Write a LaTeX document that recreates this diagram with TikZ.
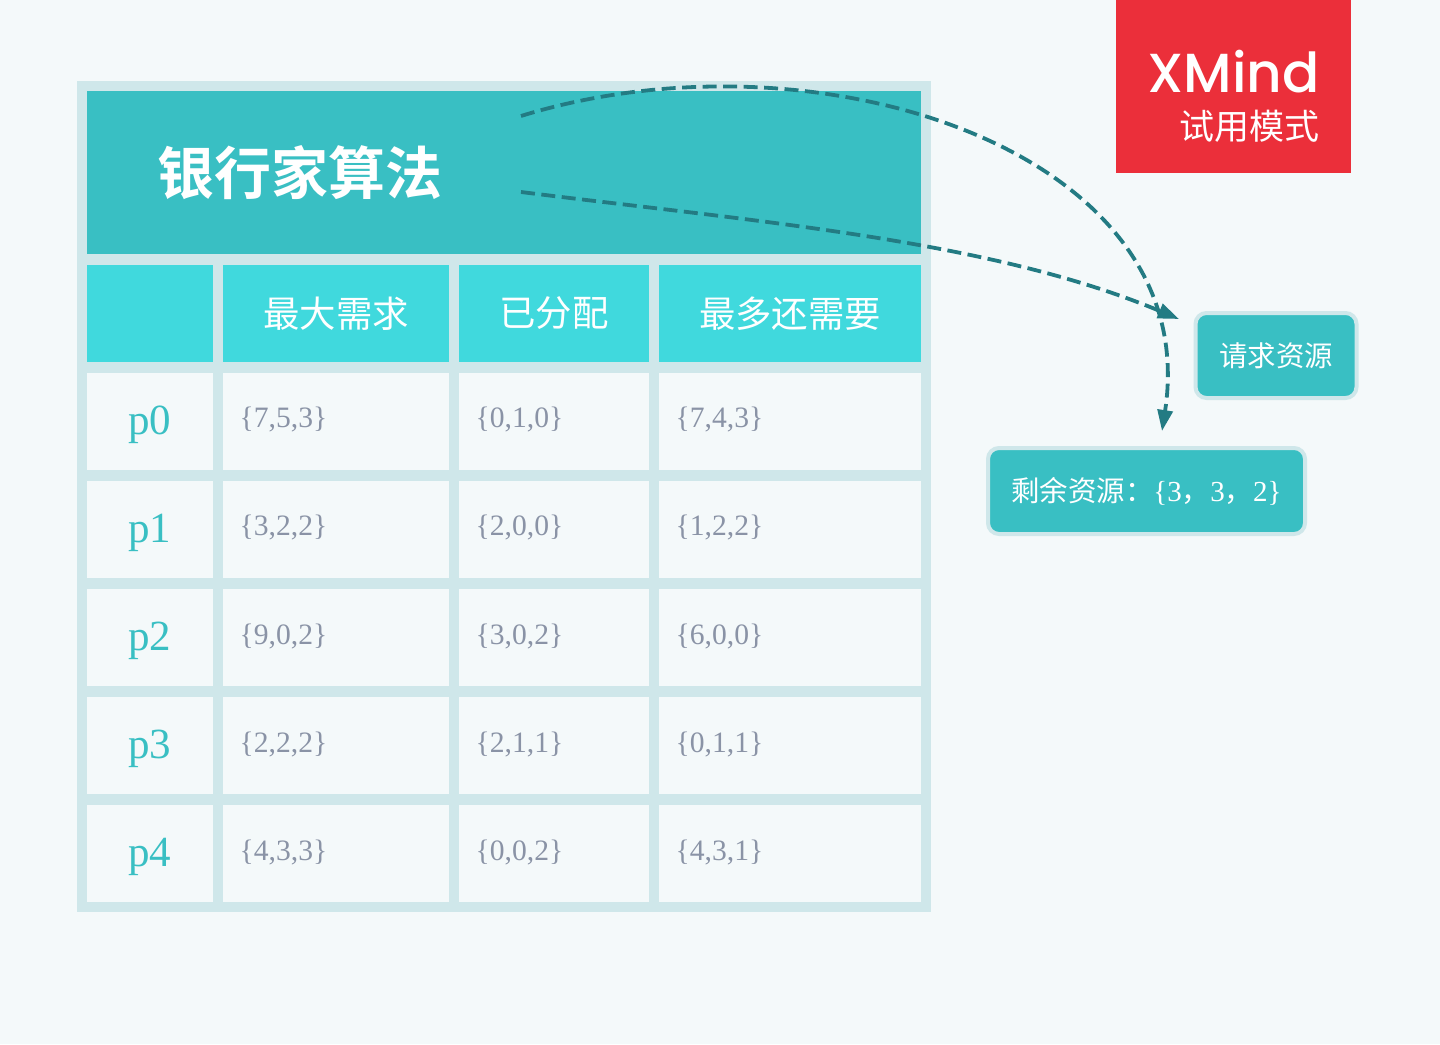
\documentclass[tikz,border=0pt]{standalone}
\usepackage{fontspec}
\usetikzlibrary{arrows.meta}
\setmainfont{Liberation Serif}
\newfontfamily\cjk{Noto Sans CJK SC}
\newfontfamily\cjkb{Noto Sans CJK SC}[BoldFont={Noto Sans CJK SC Bold}]
\newfontfamily\logofont{Poppins Medium}
\definecolor{bgc}{HTML}{F4F9FA}
\definecolor{framec}{HTML}{CFE7EA}
\definecolor{titlec}{HTML}{39BFC3}
\definecolor{headc}{HTML}{40D9DD}
\definecolor{grayc}{HTML}{8A93A6}
\definecolor{redc}{HTML}{EB2F3A}
\definecolor{linkc}{HTML}{237B83}
\tikzset{
  x=1pt,y=-1pt,
  cellbase/.style={draw=none,inner sep=0pt,outer sep=0pt,anchor=north west},
  headcell/.style={cellbase,fill=headc,text=white,font=\cjk\fontsize{36.4}{36.4}\selectfont,align=center},
  rowcell/.style={cellbase,fill=bgc},
  rowtext/.style={inner sep=0pt,text=titlec,font=\fontsize{43}{43}\selectfont},
  datacell/.style={cellbase,fill=bgc},
  datatext/.style={inner sep=0pt,anchor=west,text=grayc,font=\fontsize{29.6}{29.6}\selectfont},
  callout/.style={draw=framec,line width=4pt,fill=titlec,rounded corners=11pt,text=white,inner sep=0pt,font=\cjk\fontsize{28.4}{28.4}\selectfont},
  link/.style={draw=linkc,line width=3.8pt,dash pattern=on 14pt off 6.5pt,-{Triangle[length=21pt,width=15pt,fill=linkc]}},
}
\begin{document}
\begin{tikzpicture}
\useasboundingbox (0,0) rectangle (1440,1044);
\fill[bgc] (0,0) rectangle (1440,1044);
\node[cellbase,fill=framec,minimum width=854pt,minimum height=831pt] (frame) at (77,81) {};
\node[cellbase,fill=titlec,minimum width=834pt,minimum height=163pt] (title) at (87,91) {};
\node[inner sep=0pt,text=white,font=\cjkb\bfseries\fontsize{57}{57}\selectfont] (titletext) at (300,173) {银行家算法};
% header row
\node[headcell,minimum width=126pt,minimum height=97pt] (h0) at (87,265) {};
\node[headcell,minimum width=226pt,minimum height=97pt] (h1) at (223,265) {最大需求};
\node[headcell,minimum width=190pt,minimum height=97pt] (h2) at (459,265) {已分配};
\node[headcell,minimum width=262pt,minimum height=97pt] (h3) at (659,265) {最多还需要};
% body rows
\foreach \r/\y/\a/\b/\c in {0/373/{7,5,3}/{0,1,0}/{7,4,3},1/481/{3,2,2}/{2,0,0}/{1,2,2},2/589/{9,0,2}/{3,0,2}/{6,0,0},3/697/{2,2,2}/{2,1,1}/{0,1,1},4/805/{4,3,3}/{0,0,2}/{4,3,1}}{
  \node[rowcell,minimum width=126pt,minimum height=97pt] (p\r) at (87,\y) {};
  \node[rowtext] (pt\r) at (149.5,\y+52) {p\r};
  \node[datacell,minimum width=226pt,minimum height=97pt] (a\r) at (223,\y) {};
  \node[datacell,minimum width=190pt,minimum height=97pt] (b\r) at (459,\y) {};
  \node[datacell,minimum width=262pt,minimum height=97pt] (c\r) at (659,\y) {};
  \node[datatext] (at\r) at (239.5,\y+47) {\{\a\}};
  \node[datatext] (bt\r) at (475.5,\y+47) {\{\b\}};
  \node[datatext] (ct\r) at (675.5,\y+47) {\{\c\}};
}
% logo
\node[cellbase,fill=redc,minimum width=235pt,minimum height=173pt] (logo) at (1116,0) {};
\node[inner sep=0pt,anchor=east,text=white,font=\logofont\fontsize{55}{55}\selectfont] (logotext) at (1320,72) {XMind};
\node[inner sep=0pt,anchor=east,text=white,font=\cjk\fontsize{35}{35}\selectfont] (logosub) at (1320,126) {试用模式};
% callouts
\node[callout,minimum width=161pt,minimum height=85pt] (req) at (1276,355.5) {请求资源};
\node[callout,minimum width=317pt,minimum height=86pt] (left) at (1146.5,491) {剩余资源：{\rmfamily\fontsize{29}{29}\selectfont\{3}，{\rmfamily\fontsize{29}{29}\selectfont 3}，{\rmfamily\fontsize{29}{29}\selectfont 2\}}};
% connectors
\coordinate (s1) at (521,116);
\coordinate (e1) at (1162,431);
\coordinate (s2) at (521,192);
\coordinate (e2) at (1179,319);
\draw[link] (s1) .. controls (815,25) and (1205,150) .. (e1);
\draw[link] (s2) .. controls (760,222) and (990,240) .. (e2);
\end{tikzpicture}
\end{document}
